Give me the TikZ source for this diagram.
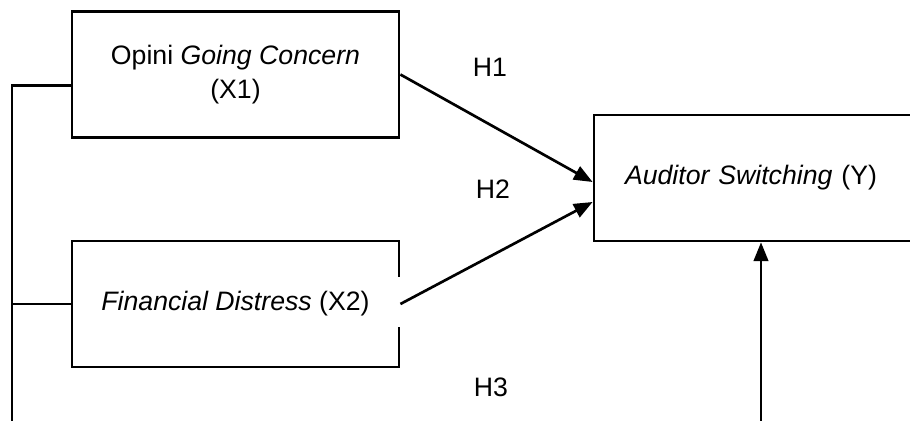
\documentclass[tikz,border=0pt]{standalone}
\usepackage{fontspec}
\setmainfont{Liberation Sans}
\usetikzlibrary{arrows.meta,positioning,calc}

\begin{document}
\begin{tikzpicture}[x=0.75pt,y=-0.75pt,
  varbox/.style={draw,line width=2.1pt,minimum width=245.25pt,minimum height=94.5pt,
    align=center,inner sep=0pt,font=\fontsize{20}{25}\selectfont},
  hyplabel/.style={font=\fontsize{20}{24}\selectfont},
  effect/.style={line width=2pt,-{Triangle[length=14pt,width=11pt]}}]
\useasboundingbox (0,0) rectangle (910,421);
\clip (0,0) rectangle (910,421);
\node[varbox] (goingc) at (235.5,74.5) {Opini \textit{Going Concern}\\(X1)};
\node[varbox] (fdistress) at (235.5,304) {\textit{Financial Distress} (X2)};
\node[varbox,minimum width=259.5pt,text width=213pt,align=left,inner xsep=23pt] (switching) at (767,178) {\textit{Auditor Switching} (Y)};
\coordinate (leftend) at (12,421);
\coordinate (upend) at (761,421);
\draw[line width=2.1pt] ([yshift=-8.25pt]goingc.west) -| (leftend);
\draw[line width=2.1pt] (fdistress.west) -- (fdistress.west -| leftend);
\fill[white] (396.5,277) rectangle (401.5,327);
\draw[effect] (goingc.east) -- ([yshift=-3pt]switching.west);
\draw[effect] (fdistress.east) -- ([yshift=-18pt]switching.west);
\draw[effect,line width=1.5pt] (upend) -- (upend |- switching.south);
\node[hyplabel] (h1) at (490,67) {H1};
\node[hyplabel] (h2) at (493,189) {H2};
\node[hyplabel] (h3) at (491,387) {H3};
\end{tikzpicture}
\end{document}
